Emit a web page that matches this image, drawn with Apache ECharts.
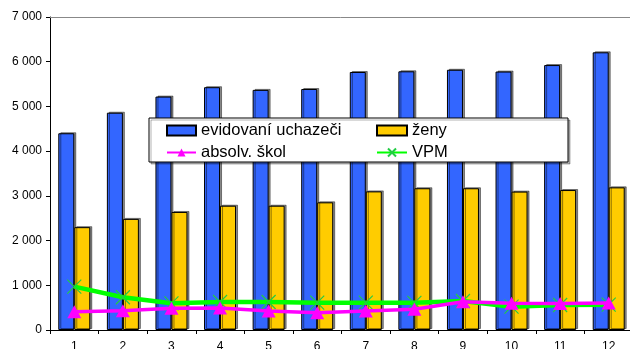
<!DOCTYPE html>
<html>
<head>
<meta charset="utf-8">
<script src="https://cdn.jsdelivr.net/npm/echarts@6/dist/echarts.min.js"></script>
<style>
  html, body { margin: 0; padding: 0; background: #fff; }
  #chart { width: 630px; height: 349px; }
</style>
</head>
<body>
<div id="chart"></div>
<script>
var months = ['1', '2', '3', '4', '5', '6', '7', '8', '9', '10', '11', '12'];
var uchazeci = [4400, 4860, 5220, 5430, 5370, 5390, 5770, 5785, 5820, 5780, 5925, 6210];
var zeny = [2300, 2485, 2640, 2780, 2780, 2855, 3100, 3170, 3170, 3095, 3130, 3190];
var absolv = [410, 432, 485, 490, 425, 387, 425, 463, 633, 597, 595, 604];
var vpm = [970, 732, 597, 626, 626, 611, 611, 608, 649, 522, 559, 566];

var font = 'Liberation Sans, Arial, sans-serif';
var chart = echarts.init(document.getElementById('chart'));

var barStyle = function(c) {
    return {
        color: c,
        borderColor: '#000',
        borderWidth: 1,
        shadowColor: 'rgba(0,0,0,0.45)',
        shadowOffsetX: 2,
        shadowOffsetY: -1,
        shadowBlur: 0
    };
};

var legendText = { fontFamily: font, fontSize: 16.5, color: '#000' };

var option = {
    animation: false,
    grid: { left: 50, right: -3, top: 17, bottom: 19, containLabel: false, outerBoundsMode: 'none' },
    graphic: [{
        type: 'rect',
        shape: { x: 149, y: 118, width: 419, height: 44 },
        style: { fill: '#fff', stroke: '#000', lineWidth: 1, shadowColor: 'rgba(0,0,0,0.3)', shadowOffsetX: 2, shadowOffsetY: 2 },
        z: 100
    }],
    legend: [{
        data: [{ name: 'evidovaní uchazeči', icon: 'rect' }, 'absolv. škol'],
        orient: 'vertical',
        left: 166, top: 122,
        padding: 0,
        itemWidth: 29, itemHeight: 10, itemGap: 5,
        textStyle: legendText,
        z: 110
    }, {
        data: [{ name: 'ženy', icon: 'rect' }, 'VPM'],
        orient: 'vertical',
        left: 376, top: 122,
        padding: 0,
        itemWidth: 30, itemHeight: 10, itemGap: 5,
        textStyle: legendText,
        z: 110
    }],
    xAxis: [{
        type: 'category',
        data: months,
        boundaryGap: true,
        axisLine: { lineStyle: { color: '#000', width: 1 } },
        axisTick: { show: true, length: 4, lineStyle: { color: '#000' } },
        axisLabel: { fontFamily: font, fontSize: 12, color: '#000', margin: 11 }
    }, {
        type: 'category',
        data: months,
        position: 'top',
        axisLine: { lineStyle: { color: '#888', width: 1 } },
        axisTick: { show: false },
        axisLabel: { show: false }
    }],
    yAxis: {
        type: 'value',
        min: 0, max: 7000, interval: 1000,
        axisLine: { show: true, lineStyle: { color: '#000', width: 1 } },
        axisTick: { show: true, length: 4, lineStyle: { color: '#000' } },
        splitLine: { show: false },
        axisLabel: {
            fontFamily: font, fontSize: 12, color: '#000', margin: 8,
            formatter: function(v) { return v === 0 ? '0' : (v / 1000) + ' 000'; }
        }
    },
    series: [{
        name: 'evidovaní uchazeči',
        type: 'bar',
        data: uchazeci,
        barWidth: 16,
        barGap: '0%',
        itemStyle: barStyle('#3366ff')
    }, {
        name: 'ženy',
        type: 'bar',
        data: zeny,
        barWidth: 16,
        barGap: '0%',
        itemStyle: barStyle('#ffcc00')
    }, {
        name: 'absolv. škol',
        type: 'line',
        data: absolv,
        symbol: 'triangle',
        symbolSize: [14, 13],
        lineStyle: { color: '#ff00ff', width: 3.5 },
        itemStyle: { color: '#ff00ff' },
        z: 5
    }, {
        name: 'VPM',
        type: 'line',
        data: vpm,
        symbol: 'path://M0,0L10,10M10,0L0,10',
        symbolSize: 14,
        lineStyle: { color: '#00ff00', width: 4.5 },
        itemStyle: { color: 'rgba(0,0,0,0)', borderColor: '#22cc44', borderWidth: 1.2 },
        z: 4
    }]
};

chart.setOption(option);
</script>
</body>
</html>
